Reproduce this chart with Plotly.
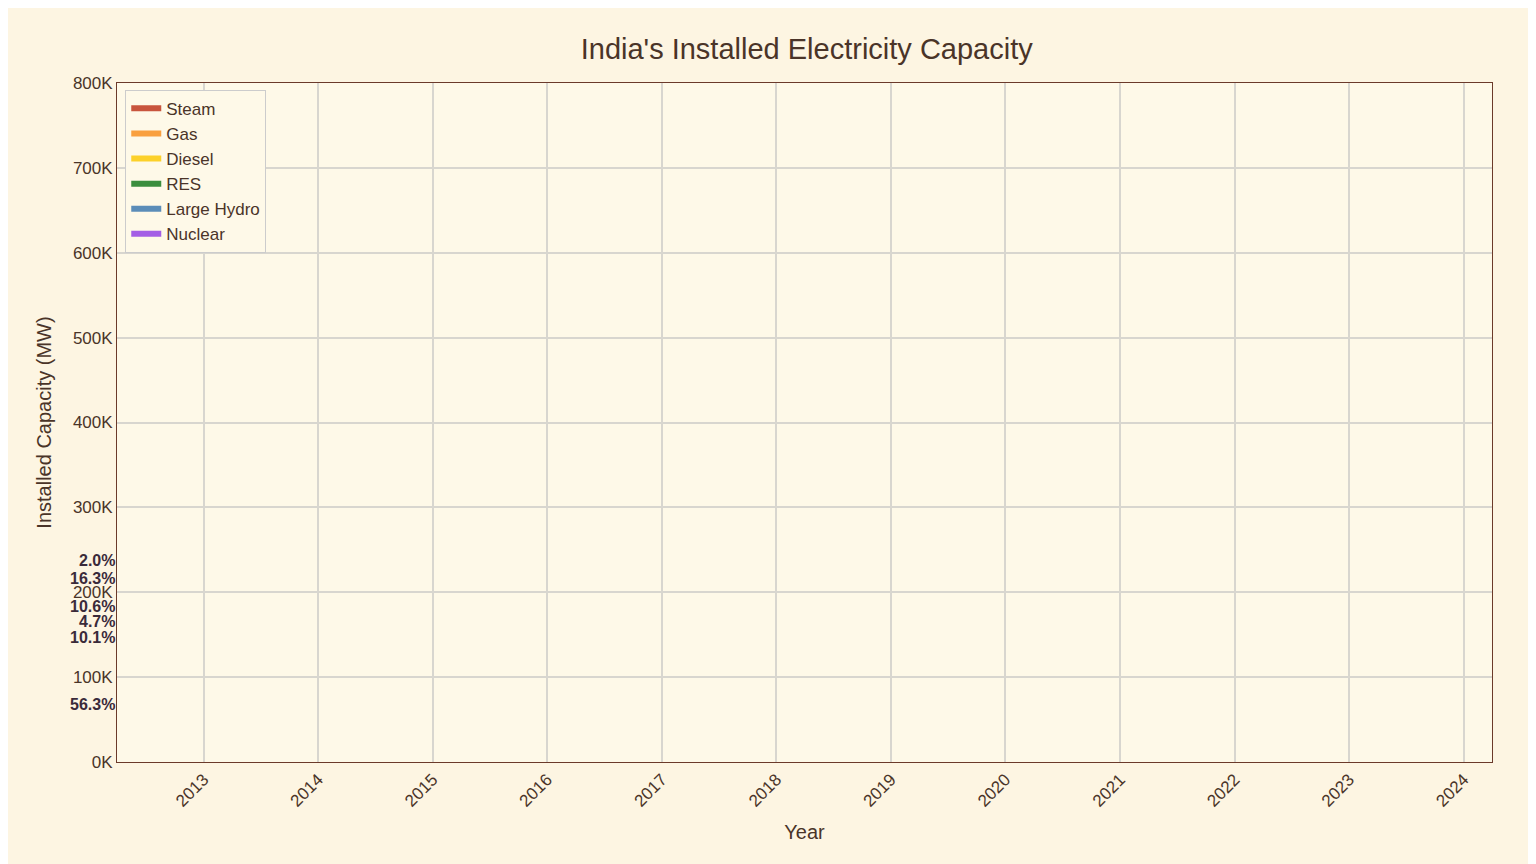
import plotly.graph_objects as go

# first frame of the animation: one date only
dates = ["2012-03-31"]
sources = ["Steam", "Gas", "Diesel", "RES", "Large Hydro", "Nuclear"]
capacity = {
    "Steam": [135120],
    "Gas": [24240],
    "Diesel": [11280],
    "RES": [25440],
    "Large Hydro": [39120],
    "Nuclear": [4800],
}
colors = ["#c8553d", "#f9a03f", "#fcd12a", "#3b8e3e", "#5b8db8", "#a45ee5"]
year_ticks = [str(y) for y in range(2013, 2025)]

fig = go.Figure()
for name, col in zip(sources, colors):
    fig.add_trace(go.Scatter(x=dates, y=capacity[name], name=name, mode="none",
                             stackgroup="one", fillcolor=col))

total = sum(capacity[s][0] for s in sources)
cum = 0
for name in sources:
    v = capacity[name][0]
    fig.add_annotation(x=dates[0], y=cum + v / 2, text="<b>%.1f%%</b>" % (100 * v / total),
                       showarrow=False, xanchor="right", font=dict(size=16, color="#3a2a3a"))
    cum += v

fig.update_layout(
    width=1536, height=864,
    paper_bgcolor="#fdf5e2", plot_bgcolor="#fef9e8",
    title=dict(text="India's Installed Electricity Capacity", x=0.52, y=0.965,
               font=dict(size=29, color="#4a3428")),
    font=dict(family="Liberation Sans, Arial", size=17, color="#4a3428"),
    margin=dict(l=109, r=52, t=75, b=110),
    legend=dict(x=0.006, y=0.99, bgcolor="#fef9e8", bordercolor="#cccccc", borderwidth=1,
                traceorder="normal", font=dict(size=17)),
    showlegend=True,
)
fig.update_xaxes(title_text="Year", range=["2012-03-31", "2024-03-31"],
                 tickvals=[y + "-01-01" for y in year_ticks], ticktext=year_ticks,
                 tickangle=-45, showgrid=True, gridcolor="#d8d6cf", gridwidth=2,
                 showline=True, linecolor="#6b3a2a", mirror=True, zeroline=False)
fig.update_yaxes(title_text="Installed Capacity (MW)", range=[0, 800000],
                 tickvals=list(range(0, 800001, 100000)),
                 ticktext=["%dK" % (v // 1000) for v in range(0, 800001, 100000)],
                 showgrid=True, gridcolor="#d8d6cf", gridwidth=2,
                 showline=True, linecolor="#6b3a2a", mirror=True, zeroline=False)

fig.write_html("out.html")
